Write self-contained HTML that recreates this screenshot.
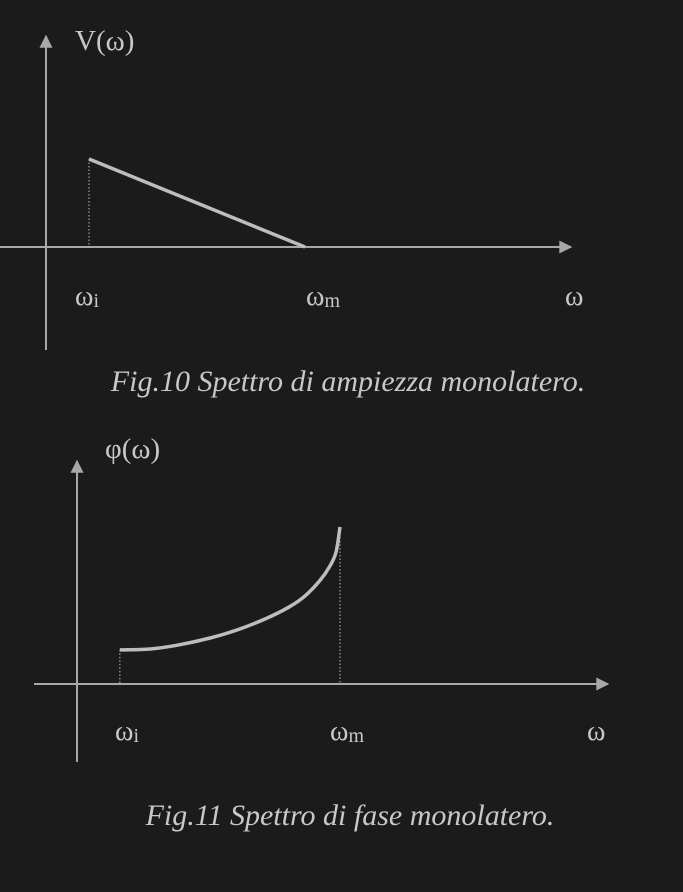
<!DOCTYPE html>
<html><head><meta charset="utf-8">
<style>
html,body{margin:0;padding:0;background:#1b1b1b;}
svg{display:block;}
text{font-family:"Liberation Serif",serif;fill:#c8c8c8;}
</style></head>
<body>
<svg id="fig" width="683" height="892" viewBox="0 0 683 892">
<defs>
<marker id="arr" viewBox="0 0 10 10" refX="9" refY="5" markerWidth="7.5" markerHeight="6.5" orient="auto-start-reverse">
<path d="M0,0 L10,5 L0,10 z" fill="#a8a8a8"/></marker>
</defs>
<g id="c1">
<line x1="46" y1="350" x2="46" y2="36" stroke="#a8a8a8" stroke-width="2" marker-end="url(#arr)"/>
<line x1="0" y1="247" x2="571" y2="247" stroke="#a8a8a8" stroke-width="2" marker-end="url(#arr)"/>
<text x="75" y="50" font-size="29">V(ω)</text>
<text x="75" y="305" font-size="28">ω<tspan font-size="20" dy="2">i</tspan></text>
<text x="306" y="305" font-size="28">ω<tspan font-size="20" dy="2">m</tspan></text>
<text x="565" y="305" font-size="28">ω</text>
<text x="348" y="391" font-size="30" font-style="italic" text-anchor="middle">Fig.10 Spettro di ampiezza monolatero.</text>
</g>
<g id="c2">
<line x1="77" y1="762" x2="77" y2="461" stroke="#a8a8a8" stroke-width="2" marker-end="url(#arr)"/>
<line x1="34" y1="684" x2="608" y2="684" stroke="#a8a8a8" stroke-width="2" marker-end="url(#arr)"/>
<text x="105" y="458" font-size="29">φ(ω)</text>
<text x="115" y="740" font-size="28">ω<tspan font-size="20" dy="2">i</tspan></text>
<text x="330" y="740" font-size="28">ω<tspan font-size="20" dy="2">m</tspan></text>
<text x="587" y="740" font-size="28">ω</text>
<text x="350" y="825" font-size="30" font-style="italic" text-anchor="middle">Fig.11 Spettro di fase monolatero.</text>
</g>
</svg>
<script>
const ampOmega = [16.6, 100];
const ampValues = [100, 0];
const phaseOmega = [16.3, 27.8, 38.4, 50.6, 60.8, 71.5, 80.6, 86.7, 92.4, 96.2, 98.5, 100];
const phaseValues = [21.7, 22.3, 24.8, 29.3, 34.4, 41.4, 49, 56.1, 66, 75.2, 84, 100];

const NS = "http://www.w3.org/2000/svg";
const x1 = u => 46 + u * 2.59, y1 = v => 247 - v * 0.88;
const x2 = u => 77 + u * 2.63, y2 = v => 684 - v * 1.57;

function mk(tag, attrs, parent) {
  const el = document.createElementNS(NS, tag);
  for (const k in attrs) el.setAttribute(k, attrs[k]);
  parent.appendChild(el);
  return el;
}
const c1 = document.getElementById("c1"), c2 = document.getElementById("c2");

let d = mk("line", {x1: x1(ampOmega[0]), y1: y1(ampValues[0]), x2: x1(ampOmega[0]), y2: y1(0), stroke: "#bbb", "stroke-width": 1, "stroke-dasharray": "1.5,2"}, c1);


let p1 = mk("polyline", {points: ampOmega.map((u, i) => x1(u) + "," + y1(ampValues[i])).join(" "), fill: "none", stroke: "#bdbdbd", "stroke-width": 3.5}, c1);



const n = phaseOmega.length;
let g1 = mk("line", {x1: x2(phaseOmega[0]), y1: y2(phaseValues[0]), x2: x2(phaseOmega[0]), y2: y2(0), stroke: "#bbb", "stroke-width": 1, "stroke-dasharray": "1.5,2"}, c2);


let g2 = mk("line", {x1: x2(phaseOmega[n-1]), y1: y2(phaseValues[n-1]), x2: x2(phaseOmega[n-1]), y2: y2(0), stroke: "#bbb", "stroke-width": 1, "stroke-dasharray": "1.5,2"}, c2);



const pts = phaseOmega.map((u, i) => [x2(u), y2(phaseValues[i])]);
let dstr = "M" + pts[0][0] + "," + pts[0][1];
for (let i = 0; i < pts.length - 1; i++) {
  const p0 = pts[Math.max(0, i - 1)], a = pts[i], b = pts[i + 1], p3 = pts[Math.min(pts.length - 1, i + 2)];
  const c1x = a[0] + (b[0] - p0[0]) / 6, c1y = a[1] + (b[1] - p0[1]) / 6;
  const c2x = b[0] - (p3[0] - a[0]) / 6, c2y = b[1] - (p3[1] - a[1]) / 6;
  dstr += " C" + c1x + "," + c1y + " " + c2x + "," + c2y + " " + b[0] + "," + b[1];
}
let p2 = mk("path", {d: dstr, fill: "none", stroke: "#bdbdbd", "stroke-width": 3.5}, c2);


</script>
</body></html>
